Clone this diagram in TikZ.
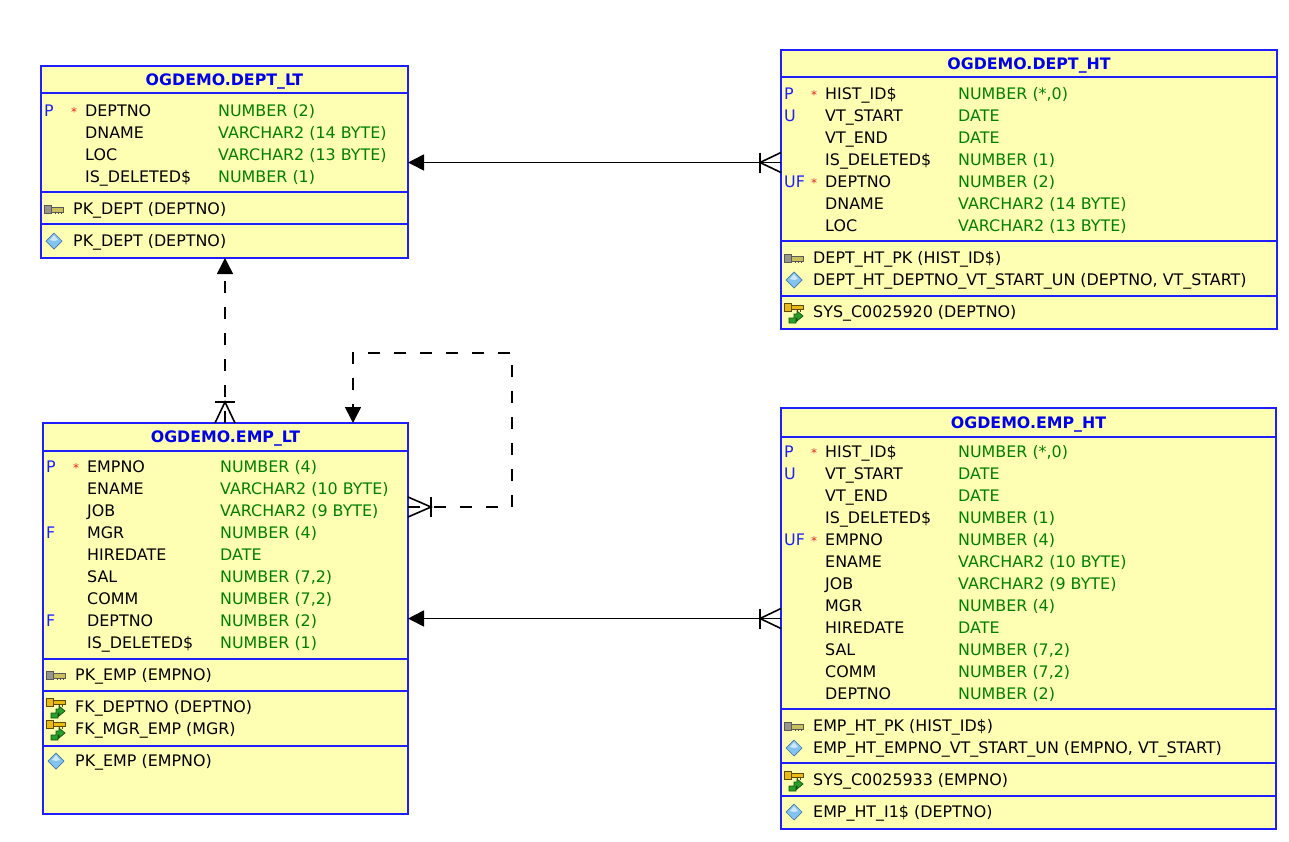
\documentclass[tikz,border=0pt]{standalone}
\usepackage{fontspec}
\setmainfont{DejaVu Sans}
\usetikzlibrary{arrows.meta,calc}
\definecolor{tfill}{RGB}{255,255,180}
\definecolor{tblue}{RGB}{30,30,255}
\definecolor{ttitle}{RGB}{0,0,235}
\definecolor{tgreen}{RGB}{0,128,0}
\definecolor{tred}{RGB}{240,30,30}
\definecolor{keygray}{RGB}{150,150,140}
\definecolor{keyyel}{RGB}{200,190,90}
\definecolor{fkgold}{RGB}{235,185,20}
\definecolor{fkgreen}{RGB}{40,160,40}
\definecolor{diafill}{RGB}{130,195,240}
\definecolor{diaedge}{RGB}{70,120,170}
\newcommand{\colrow}[7]{%
 \node[flagtxt] (#1-f#3) at (#2+3,#3+5.8) {#4};
 \node[reqtxt] (#1-s#3) at (#2+30,#3+5.8) {#5};
 \node[nametxt] (#1-n#3) at (#2+44,#3+5.8) {#6};
 \node[typetxt] (#1-t#3) at (#2+177,#3+5.8) {#7};}
\newcommand{\conrow}[5]{%
 \pic at (#2+12,#3) {#4};
 \node[nametxt] (#1-c#3) at (#2+32,#3+5.8) {#5};}
\tikzset{
 tbl/.style={draw=tblue, fill=tfill, line width=1.5pt, inner sep=0pt, outer sep=0pt, anchor=north west},
 sepline/.style={draw=tblue, line width=1.3pt},
 ttl/.style={font=\fontsize{15.8}{18}\selectfont\bfseries, text=ttitle, anchor=base, inner sep=0pt},
 flagtxt/.style={text=tblue, anchor=base west, inner sep=0pt},
 reqtxt/.style={text=tred, anchor=base west, inner sep=0pt, font=\fontsize{12}{14}\selectfont},
 nametxt/.style={text=black, anchor=base west, inner sep=0pt},
 typetxt/.style={text=tgreen, anchor=base west, inner sep=0pt},
 rel/.style={line width=1.6pt, draw=black},
 reld/.style={rel, dash pattern=on 12pt off 14pt},
 tipend/.style={-{Triangle[length=16pt,width=16pt]}},
 pkey/.pic={
  \draw[fill=keygray, draw=black!65, line width=0.7pt] (-9,-4) rectangle (-2,4);
  \draw[fill=keyyel, draw=black!65, line width=0.7pt] (-2,-2) rectangle (10,3);
  \draw[black!70, line width=0.9pt] (2,3) -- (2,5) (5,3) -- (5,5) (8,3) -- (8,5);},
 fkey/.pic={
  \draw[fill=fkgold, draw=black!60!fkgold, line width=0.7pt] (-9,-9) rectangle (-2,-1);
  \draw[fill=fkgold, draw=black!60!fkgold, line width=0.7pt] (-2,-7) rectangle (10,-3);
  \draw[black!60!fkgold, line width=0.9pt] (4,-3) -- (4,0) (7,-3) -- (7,0);
  \draw[fill=fkgreen, draw=black!50!fkgreen, line width=0.7pt] (-4,11) -- (-4,6) -- (1,6) -- (1,2) -- (4,2) -- (4,-1) -- (10,4) -- (4,9) -- (4,6) -- (3,6) -- (3,11) -- cycle;},
 uidx/.pic={
  \draw[fill=diafill, draw=diaedge, line width=0.7pt] (1,-8) -- (9,0) -- (1,8) -- (-7,0) -- cycle;
  \fill[white, opacity=0.6] (1,-6) -- (5,-1) -- (1,0) -- (-3,-1) -- cycle;}
}
\begin{document}
\begin{tikzpicture}[x=1pt,y=-1pt, font=\fontsize{15.9}{18}\selectfont]
\useasboundingbox (0,0) rectangle (1289,841);
% ---------- DEPT_LT ----------
\node[tbl, minimum width=367pt, minimum height=192pt] (dlt) at (41,66) {};
\node[ttl] (dlt-title) at (224.5,80+5.8) {OGDEMO.DEPT\_LT};
\draw[sepline] (41,93) -- (408,93);
\draw[sepline] (41,192) -- (408,192);
\draw[sepline] (41,224) -- (408,224);
\colrow{dlt}{41}{111}{P}{*}{DEPTNO}{NUMBER (2)}
\colrow{dlt}{41}{133}{}{}{DNAME}{VARCHAR2 (14 BYTE)}
\colrow{dlt}{41}{155}{}{}{LOC}{VARCHAR2 (13 BYTE)}
\colrow{dlt}{41}{177}{}{}{IS\_DELETED\$}{NUMBER (1)}
\conrow{dlt}{41}{209}{pkey}{PK\_DEPT (DEPTNO)}
\conrow{dlt}{41}{241}{uidx}{PK\_DEPT (DEPTNO)}
% ---------- DEPT_HT ----------
\node[tbl, minimum width=496pt, minimum height=279pt] (dht) at (781,50) {};
\node[ttl] (dht-title) at (1029,64+5.8) {OGDEMO.DEPT\_HT};
\draw[sepline] (781,77) -- (1277,77);
\draw[sepline] (781,241) -- (1277,241);
\draw[sepline] (781,296) -- (1277,296);
\colrow{dht}{781}{94}{P}{*}{HIST\_ID\$}{NUMBER (*,0)}
\colrow{dht}{781}{116}{U}{}{VT\_START}{DATE}
\colrow{dht}{781}{138}{}{}{VT\_END}{DATE}
\colrow{dht}{781}{160}{}{}{IS\_DELETED\$}{NUMBER (1)}
\colrow{dht}{781}{182}{UF}{*}{DEPTNO}{NUMBER (2)}
\colrow{dht}{781}{204}{}{}{DNAME}{VARCHAR2 (14 BYTE)}
\colrow{dht}{781}{226}{}{}{LOC}{VARCHAR2 (13 BYTE)}
\conrow{dht}{781}{258}{pkey}{DEPT\_HT\_PK (HIST\_ID\$)}
\conrow{dht}{781}{280}{uidx}{DEPT\_HT\_DEPTNO\_VT\_START\_UN (DEPTNO, VT\_START)}
\conrow{dht}{781}{312}{fkey}{SYS\_C0025920 (DEPTNO)}
% ---------- EMP_LT ----------
\node[tbl, minimum width=365pt, minimum height=391pt] (elt) at (43,423) {};
\node[ttl] (elt-title) at (225.5,437+5.8) {OGDEMO.EMP\_LT};
\draw[sepline] (43,451) -- (408,451);
\draw[sepline] (43,659) -- (408,659);
\draw[sepline] (43,691) -- (408,691);
\draw[sepline] (43,746) -- (408,746);
\colrow{elt}{43}{467}{P}{*}{EMPNO}{NUMBER (4)}
\colrow{elt}{43}{489}{}{}{ENAME}{VARCHAR2 (10 BYTE)}
\colrow{elt}{43}{511}{}{}{JOB}{VARCHAR2 (9 BYTE)}
\colrow{elt}{43}{533}{F}{}{MGR}{NUMBER (4)}
\colrow{elt}{43}{555}{}{}{HIREDATE}{DATE}
\colrow{elt}{43}{577}{}{}{SAL}{NUMBER (7,2)}
\colrow{elt}{43}{599}{}{}{COMM}{NUMBER (7,2)}
\colrow{elt}{43}{621}{F}{}{DEPTNO}{NUMBER (2)}
\colrow{elt}{43}{643}{}{}{IS\_DELETED\$}{NUMBER (1)}
\conrow{elt}{43}{675}{pkey}{PK\_EMP (EMPNO)}
\conrow{elt}{43}{707}{fkey}{FK\_DEPTNO (DEPTNO)}
\conrow{elt}{43}{729}{fkey}{FK\_MGR\_EMP (MGR)}
\conrow{elt}{43}{761}{uidx}{PK\_EMP (EMPNO)}
% ---------- EMP_HT ----------
\node[tbl, minimum width=495pt, minimum height=421pt] (eht) at (781,408) {};
\node[ttl] (eht-title) at (1028.5,423+5.8) {OGDEMO.EMP\_HT};
\draw[sepline] (781,437) -- (1276,437);
\draw[sepline] (781,709) -- (1276,709);
\draw[sepline] (781,763) -- (1276,763);
\draw[sepline] (781,796) -- (1276,796);
\colrow{eht}{781}{452}{P}{*}{HIST\_ID\$}{NUMBER (*,0)}
\colrow{eht}{781}{474}{U}{}{VT\_START}{DATE}
\colrow{eht}{781}{496}{}{}{VT\_END}{DATE}
\colrow{eht}{781}{518}{}{}{IS\_DELETED\$}{NUMBER (1)}
\colrow{eht}{781}{540}{UF}{*}{EMPNO}{NUMBER (4)}
\colrow{eht}{781}{562}{}{}{ENAME}{VARCHAR2 (10 BYTE)}
\colrow{eht}{781}{584}{}{}{JOB}{VARCHAR2 (9 BYTE)}
\colrow{eht}{781}{606}{}{}{MGR}{NUMBER (4)}
\colrow{eht}{781}{628}{}{}{HIREDATE}{DATE}
\colrow{eht}{781}{650}{}{}{SAL}{NUMBER (7,2)}
\colrow{eht}{781}{672}{}{}{COMM}{NUMBER (7,2)}
\colrow{eht}{781}{694}{}{}{DEPTNO}{NUMBER (2)}
\conrow{eht}{781}{726}{pkey}{EMP\_HT\_PK (HIST\_ID\$)}
\conrow{eht}{781}{748}{uidx}{EMP\_HT\_EMPNO\_VT\_START\_UN (EMPNO, VT\_START)}
\conrow{eht}{781}{780}{fkey}{SYS\_C0025933 (EMPNO)}
\conrow{eht}{781}{812}{uidx}{EMP\_HT\_I1\$ (DEPTNO)}
% ---------- connectors ----------
\coordinate (cfA) at (760,162.5);
\coordinate (cfB) at (760,618.5);
\coordinate (cfC) at (225,402);
\coordinate (cfD) at (431,507);
\coordinate (lp1) at (512,353);
\coordinate (lp2) at (353,353);
% DEPT_HT -> DEPT_LT
\draw[rel,tipend] (dht.west |- cfA) -- (dlt.east |- cfA);
\draw[rel] ($(cfA)+(0,-10)$) -- ($(cfA)+(0,10)$);
\draw[rel] ($(dht.west |- cfA)+(0,-10)$) -- (cfA) -- ($(dht.west |- cfA)+(0,10)$);
% EMP_HT -> EMP_LT
\draw[rel,tipend] (eht.west |- cfB) -- (elt.east |- cfB);
\draw[rel] ($(cfB)+(0,-10)$) -- ($(cfB)+(0,10)$);
\draw[rel] ($(eht.west |- cfB)+(0,-10)$) -- (cfB) -- ($(eht.west |- cfB)+(0,10)$);
% EMP_LT -> DEPT_LT
\draw[reld,tipend] (elt.north -| cfC) -- (dlt.south -| cfC);
\draw[rel] ($(cfC)+(-10,0)$) -- ($(cfC)+(10,0)$);
\draw[rel] ($(elt.north -| cfC)+(-10,0)$) -- (cfC) -- ($(elt.north -| cfC)+(10,0)$);
% EMP_LT self (MGR)
\draw[reld,tipend] (elt.east |- cfD) -- (lp1 |- cfD) -- (lp1) -- (lp2) -- (elt.north -| lp2);
\draw[rel] ($(cfD)+(0,-10)$) -- ($(cfD)+(0,10)$);
\draw[rel] ($(elt.east |- cfD)+(0,-10)$) -- (cfD) -- ($(elt.east |- cfD)+(0,10)$);
\end{tikzpicture}
\end{document}
